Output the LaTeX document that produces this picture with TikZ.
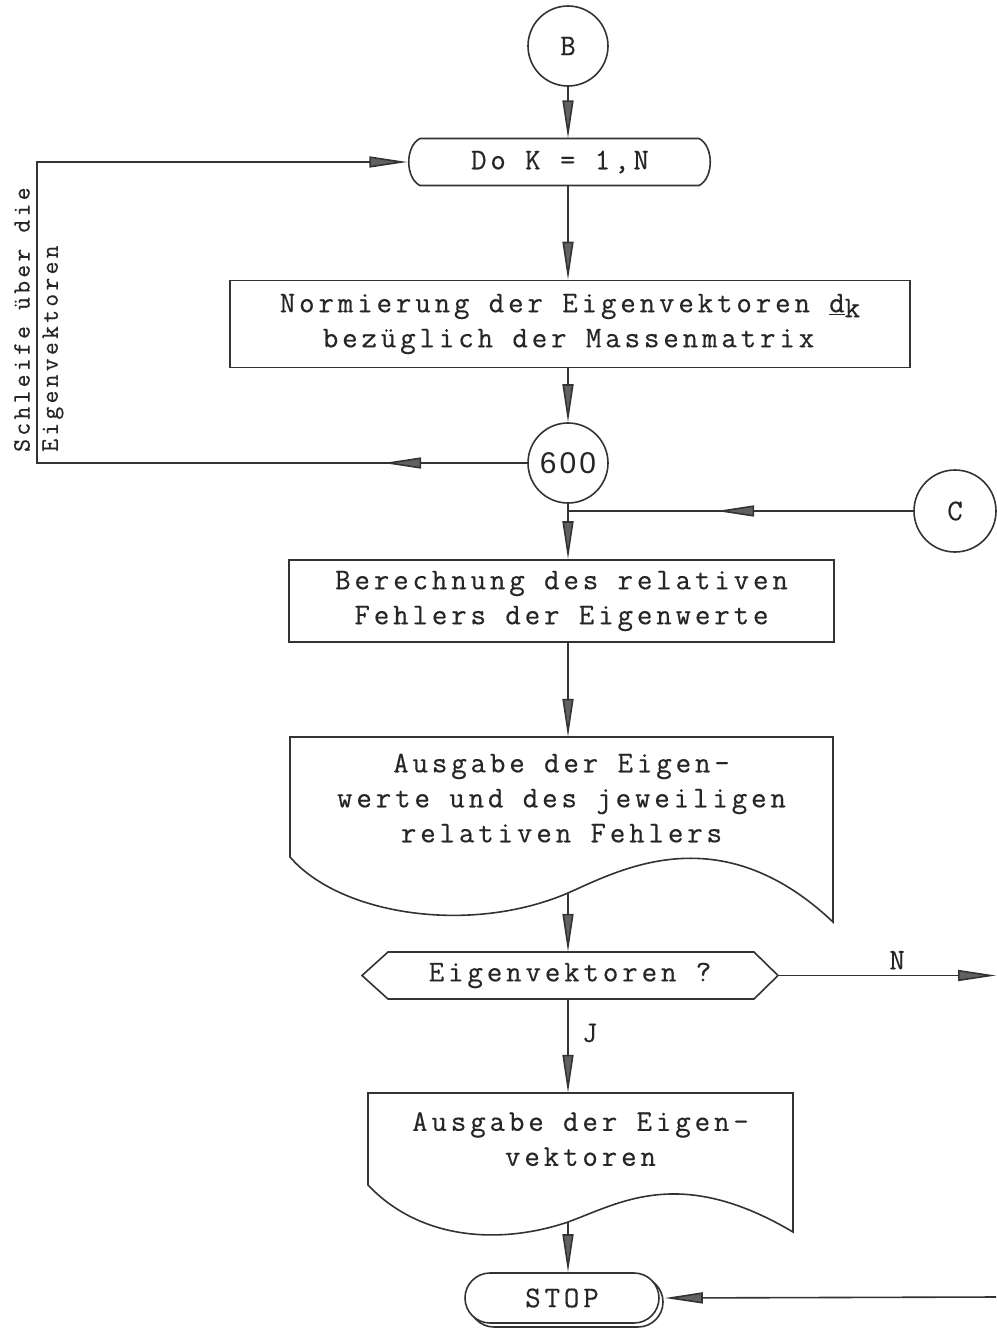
\documentclass[tikz,border=0pt]{standalone}
\usepackage{fontspec}
\usetikzlibrary{arrows.meta,decorations.markings,shadows}
\newfontfamily\tw{Latin Modern Mono}[LetterSpace=13,FakeBold=0.4]
\newfontfamily\tws{Liberation Sans}[LetterSpace=10]
\begin{document}
\begin{tikzpicture}[x=1pt,y=-1pt,
  every node/.style={text=black!85},
  font=\tw\fontsize{30}{35}\selectfont,
  >={Triangle[length=38pt,width=11pt,fill=black!62]},
  ln/.style={draw=black!80, line width=1.6pt},
  boxst/.style={draw=black!80, line width=1.6pt},
  circ/.style={circle, draw=black!80, line width=1.6pt, inner sep=0pt},
  midarrow/.style={postaction={decorate, decoration={markings, mark=at position #1 with {\arrow{>}}}}},
  lbl/.style={font=\tw\fontsize{25}{28}\selectfont, rotate=90, anchor=west, inner sep=0pt}
]
\fill[white] (0,0) rectangle (996,1328);
\useasboundingbox (0,0) rectangle (996,1328);
\coordinate (axis) at (568,0);

% nodes
\node[circ, minimum size=80pt] (B) at (568,46) {B};
\node[inner sep=0pt, minimum width=305pt, minimum height=47pt] (do) at (560,162) {Do K = 1,N};
\draw[ln] (420,138.5) -- (699,138.5) .. controls (714,146) and (714,178) .. (699,185.5)
  -- (420,185.5) .. controls (405,178) and (405,146) .. cycle;

\node[boxst, minimum width=680pt, minimum height=87pt, align=left, inner sep=0pt] (norm) at (570,324)
  {Normierung der Eigenvektoren \underline{d}\raisebox{-5pt}{k}\\\hspace*{43pt}bezüglich der Massenmatrix};

\node[circ, minimum size=80pt, font=\tws\fontsize{30}{30}\selectfont] (c600) at (568,463) {600};
\node[circ, minimum size=82pt] (C) at (955,511) {C};

\node[boxst, minimum width=545pt, minimum height=82pt, align=center] (ber) at (561.5,601)
  {Berechnung des relativen\\Fehlers der Eigenwerte};

% Ausgabe 1 (document shape)
\draw[ln] (290,857) -- (290,737) -- (833,737) -- (833,922)
  .. controls (720,815) and (620,870) .. (568,893)
  .. controls (470,935) and (340,915) .. (290,857) -- cycle;
\coordinate (w1) at (568,893);
\node[minimum width=543pt, minimum height=122pt, align=center, inner sep=0pt] (aus1) at (561.5,798)
  {Ausgabe der Eigen-\\werte und des jeweiligen\\relativen Fehlers};

% decision hexagon
\node[minimum width=416pt, minimum height=47pt, inner sep=0pt] (hex) at (570,975.5) {Eigenvektoren ?};
\draw[ln] (362,975.5) -- (388,952) -- (754,952) -- (778,975.5) -- (754,999) -- (388,999) -- cycle;

% Ausgabe 2
\draw[ln] (368,1185) -- (368,1093) -- (793,1093) -- (793,1232)
  .. controls (680,1165) and (620,1203) .. (568,1222)
  .. controls (500,1245) and (420,1240) .. (368,1185) -- cycle;
\coordinate (w2) at (568,1222);
\node[minimum width=425pt, minimum height=92pt, align=center, inner sep=0pt] (aus2) at (580.5,1139)
  {Ausgabe der Eigen-\\vektoren};

% STOP
\node[ln, rounded corners=25pt, minimum width=194pt, minimum height=50pt, fill=white, inner sep=0pt,
  general shadow={shadow xshift=4pt, shadow yshift=-4pt, draw=black!80, line width=1.6pt, fill=white}]
  (stop) at (562,1298) {STOP};

% loop labels
\node[lbl] (lab1) at (22,452) {Schleife über die};
\node[lbl] (lab2) at (53,452) {Eigenvektoren};

% connectors
\draw[ln,->] (B.south) -- (B.south |- do.north);
\draw[ln,->] (do.south -| axis) -- (norm.north -| axis);
\draw[ln,->] (norm.south -| axis) -- (c600.north);
\draw[ln,->,midarrow=144pt] (c600.west) -- ++(-490,0) |- (do.west);
\draw[ln,->] (c600.south) -- (ber.north -| axis);
\draw[ln,midarrow=197pt] (C.west) -- (C.west -| axis);
\draw[ln,->] (ber.south -| axis) -- (aus1.north -| axis);
\draw[ln,->] (w1) -- (hex.north -| w1);
\coordinate (Nend) at (996,975.5);
\draw[ln,->] (hex.east) -- node[above=2pt, pos=0.546] (Nlab) {N} (Nend);
\draw[ln,->] (hex.south -| axis) -- node[right=10pt, pos=0.36] (Jlab) {J} (aus2.north -| axis);
\draw[ln,->] (w2) -- (stop.north -| w2);
\coordinate (Send) at (996,1297);
\draw[ln,->] (Send) -- ([xshift=5pt]stop.east);
\end{tikzpicture}
\end{document}
